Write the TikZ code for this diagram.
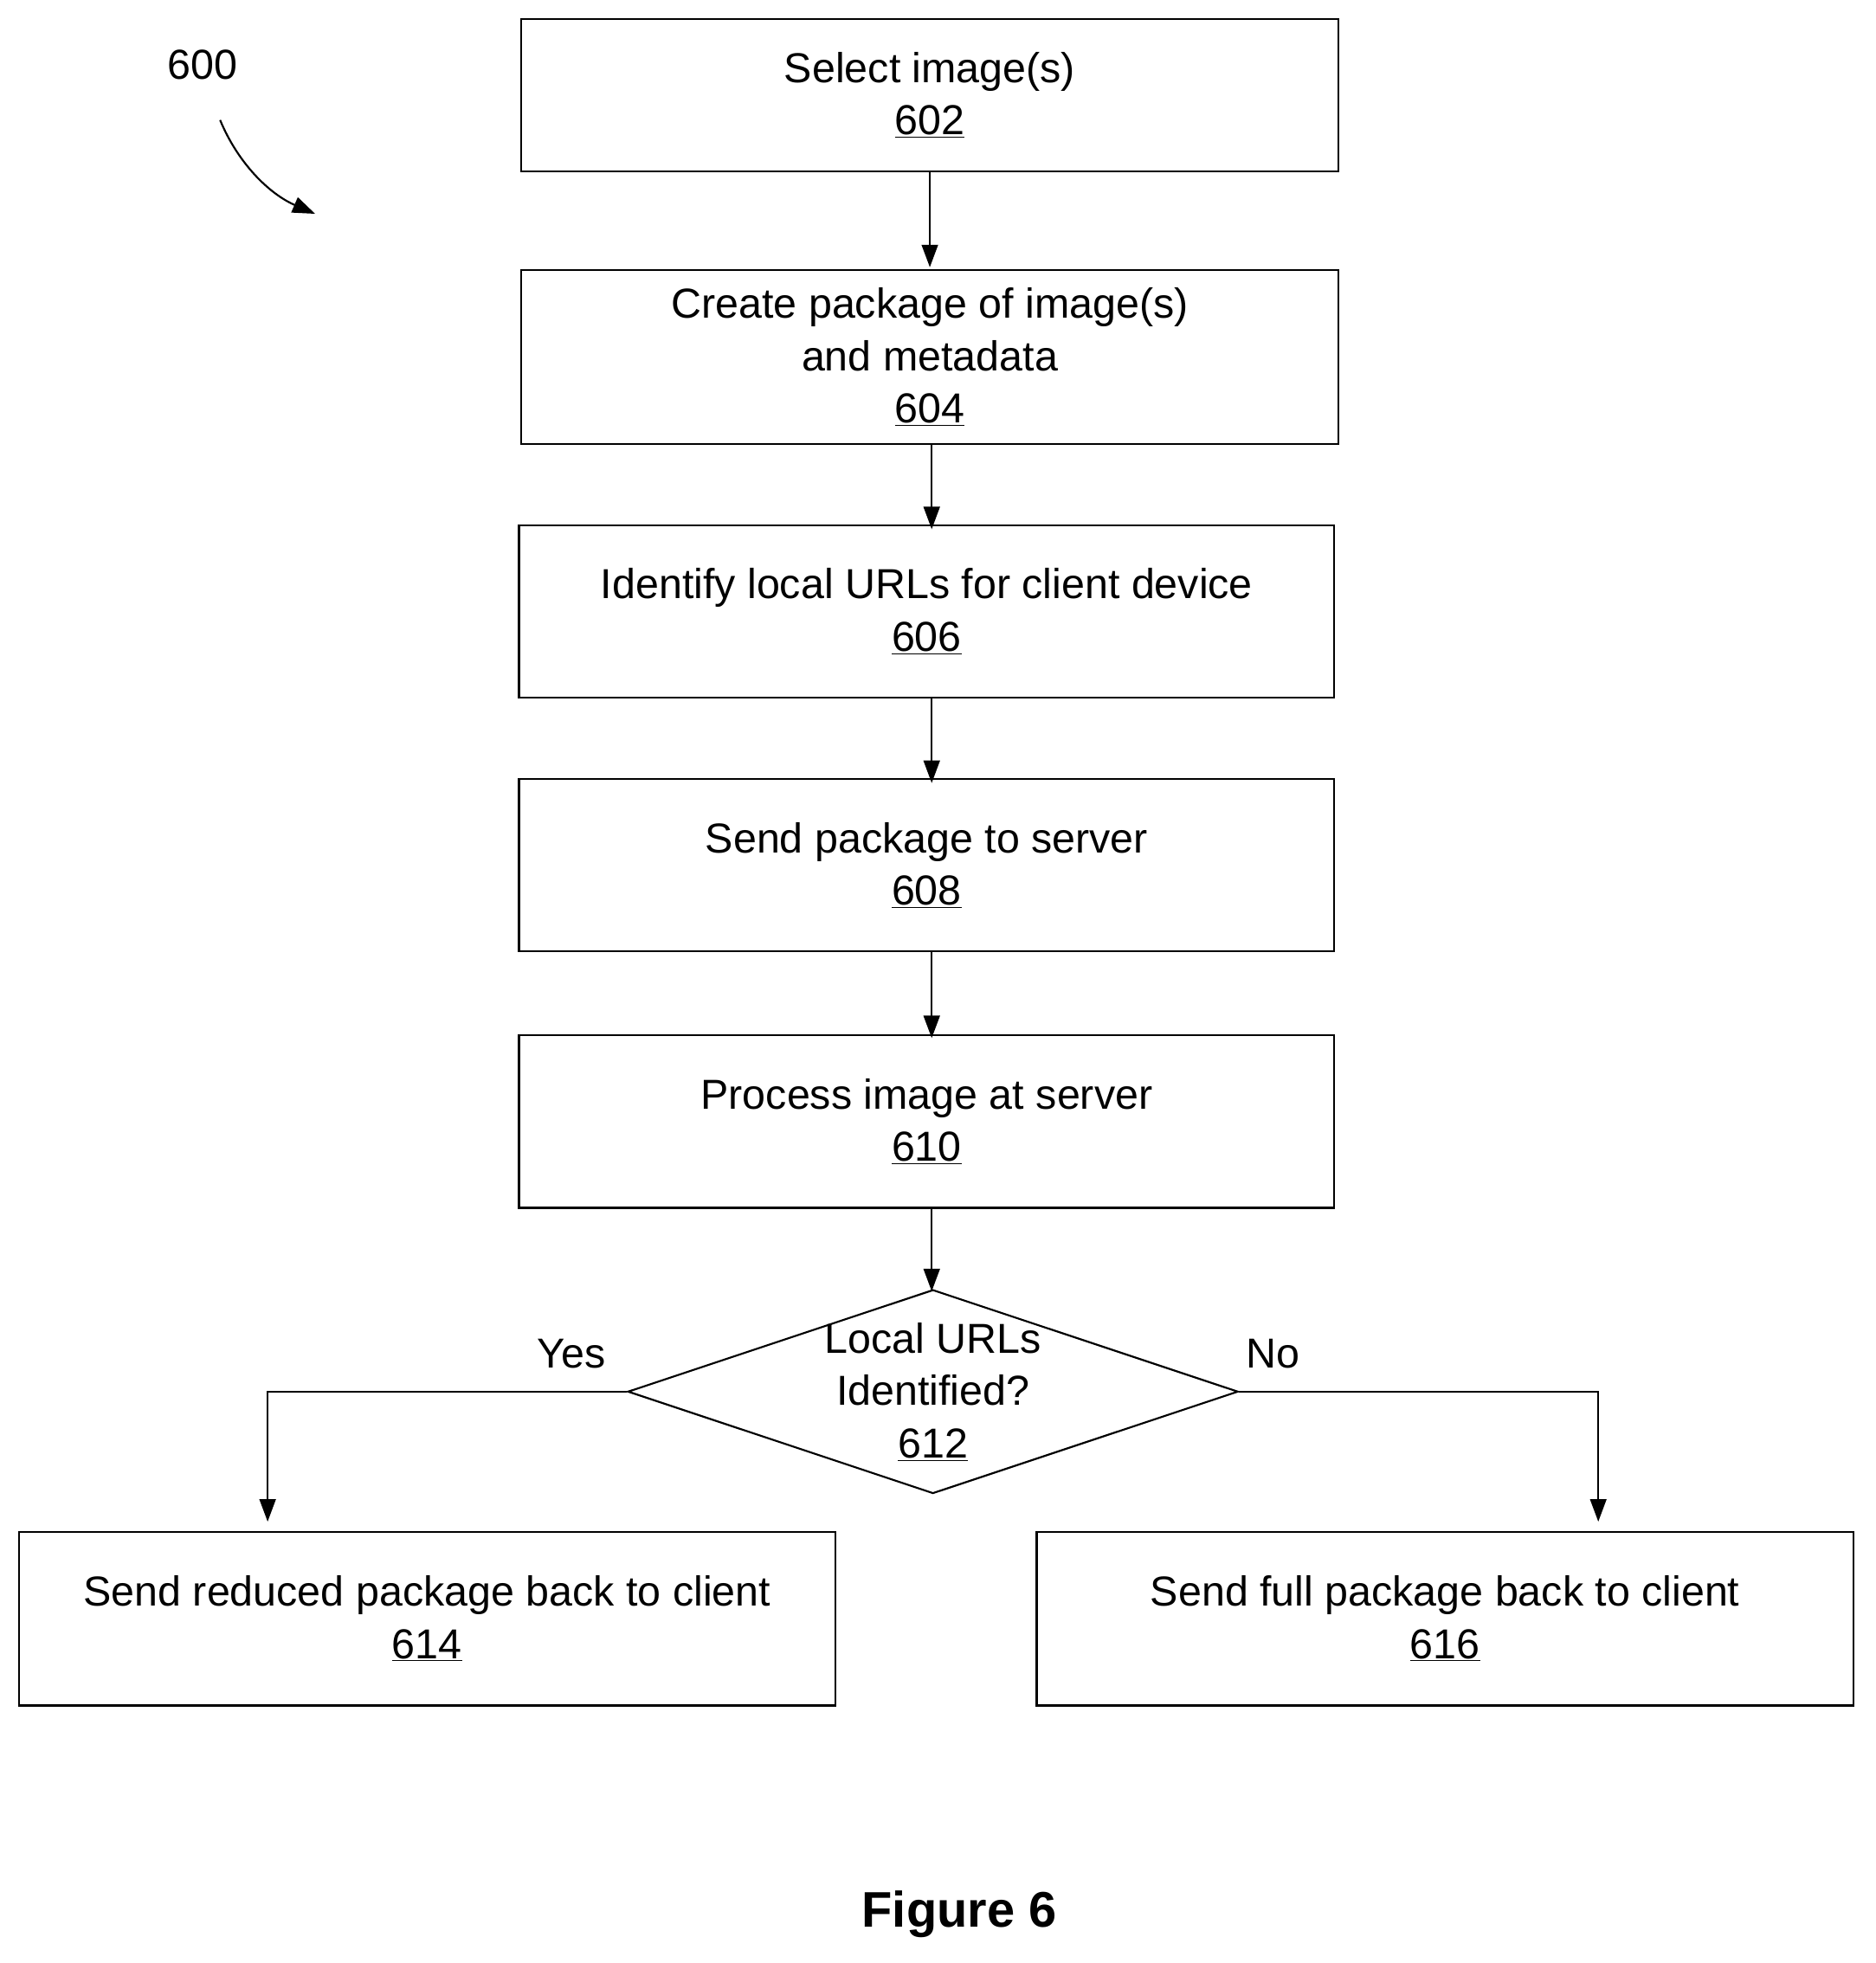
\documentclass[tikz,border=0pt]{standalone}
\usepackage{fontspec}
\setmainfont{Liberation Sans}
\usetikzlibrary{arrows.meta,shapes.geometric}
\begin{document}
\begin{tikzpicture}[x=1pt,y=-1pt,
  box/.style={draw,line width=1.5pt,inner sep=0pt,align=center,font=\fontsize{33.5}{42}\selectfont},
  arr/.style={line width=1.5pt,-{Triangle[length=18pt,width=13pt]}},
  lbl/.style={font=\fontsize{33.5}{40}\selectfont}]
\useasboundingbox (0,0) rectangle (1500,1570);
\node[box,minimum width=653pt,minimum height=122pt] (b602) at (743.5,76) {Select image(s)\\\underline{602}};
\node[box,minimum width=653pt,minimum height=139pt] (b604) at (743.5,285.5) {Create package of image(s)\\and metadata\\\underline{604}};
\node[box,minimum width=652pt,minimum height=138pt] (b606) at (741,489) {Identify local URLs for client device\\\underline{606}};
\node[box,minimum width=652pt,minimum height=138pt] (b608) at (741,692) {Send package to server\\\underline{608}};
\node[box,minimum width=652pt,minimum height=138pt] (b610) at (741,897) {Process image at server\\\underline{610}};
\node[draw,line width=1.5pt,diamond,aspect=3,minimum width=488pt,minimum height=163pt,inner sep=0pt] (d612) at (746,1113) {};
\node[box,draw=none] (t612) at (746,1113) {Local URLs\\Identified?\\\underline{612}};
\node[box,minimum width=653pt,minimum height=139pt] (b614) at (341.5,1294.5) {Send reduced package back to client\\\underline{614}};
\node[box,minimum width=653pt,minimum height=139pt] (b616) at (1155.5,1294.5) {Send full package back to client\\\underline{616}};
\draw[arr] (b602.south) -- ++(0,76);
\draw[arr] ([xshift=1.5pt]b604.south) -- ([xshift=4pt,yshift=-4pt]b606.north);
\draw[arr] ([xshift=4pt]b606.south) -- ([xshift=4pt,yshift=-4pt]b608.north);
\draw[arr] ([xshift=4pt]b608.south) -- ([xshift=4pt,yshift=-3pt]b610.north);
\draw[arr] ([xshift=4pt]b610.south) -- ([xshift=-1pt,yshift=-2pt]d612.north);
\coordinate (yl) at (214,1113);
\coordinate (nl) at (1278,1113);
\draw[arr] (d612.west) -- (yl) -- (214,1217);
\draw[arr] (d612.east) -- (nl) -- (1278,1217);
\node[lbl] (yes) at (457,1083) {Yes};
\node[lbl] (no) at (1018,1083) {No};
\node[lbl] (n600) at (162,52) {600};
\coordinate (c1) at (176,96);
\coordinate (c2) at (252,171);
\draw[arr] (c1) .. controls (190,130) and (215,155) .. (c2);
\node[font=\fontsize{40}{46}\selectfont\bfseries] (fig) at (767,1531) {Figure 6};
\end{tikzpicture}
\end{document}
